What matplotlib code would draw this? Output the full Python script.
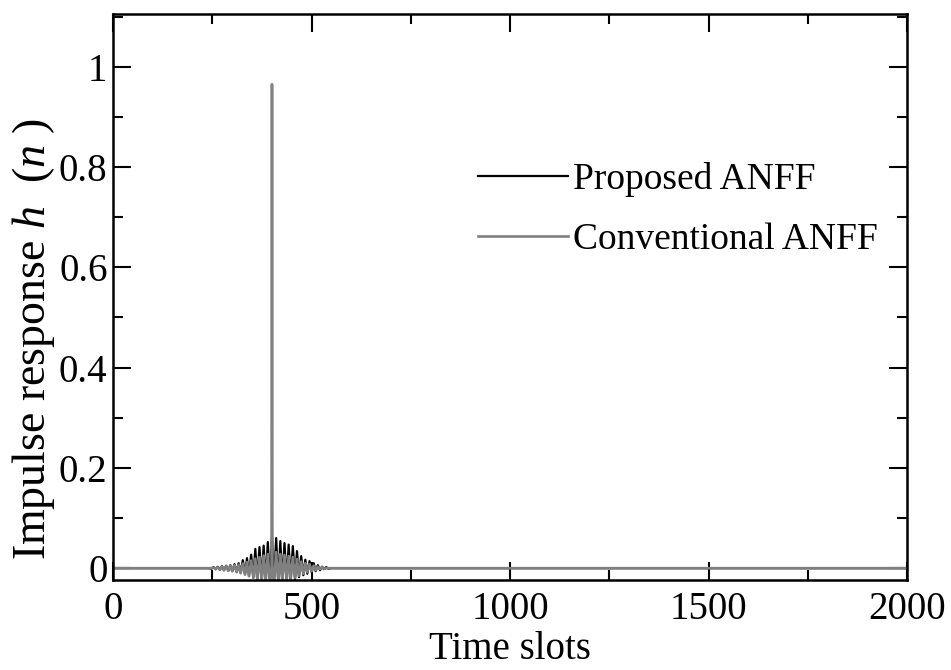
import numpy as np
import matplotlib
matplotlib.use("Agg")
import matplotlib.pyplot as plt
from matplotlib.ticker import MultipleLocator, FixedLocator

plt.rcParams['font.family'] = ['Liberation Serif', 'DejaVu Serif']
plt.rcParams['mathtext.fontset'] = 'custom'
plt.rcParams['mathtext.rm'] = 'Liberation Serif'
plt.rcParams['mathtext.it'] = 'Liberation Serif:italic'

# extrema of the impulse responses (time slot, value)
proposed_n = [0, 240, 248, 253, 258, 263.5, 269, 274, 279, 284.5, 290, 295, 300,
              305.5, 311, 316, 321, 326.5, 332, 337, 342, 347.5, 353, 358, 363,
              368.5, 374, 379, 384, 389.5, 395, 400, 405, 410.5, 416, 421, 426,
              431.5, 437, 442, 447, 452.5, 458, 463, 468, 473.5, 479, 484, 489,
              494.5, 500, 505, 510, 515.5, 521, 526, 531, 536.5, 542, 550, 2000]
proposed_h = [0, 0, -0.001, 0.002, -0.002, 0.003, -0.003, 0.004, -0.004, 0.005, -0.005,
              0.006, -0.006, 0.008, -0.007, 0.010, -0.009, 0.016, -0.012, 0.020, -0.015,
              0.027, -0.019, 0.0385, -0.024, 0.042, -0.026, 0.045, -0.028, 0.052, -0.03,
              0.065, -0.03, 0.060, -0.03, 0.054, -0.028, 0.050, -0.027, 0.047, -0.025,
              0.044, -0.022, 0.034, -0.018, 0.024, -0.014, 0.017, -0.011, 0.014, -0.008,
              0.010, -0.006, 0.006, -0.004, 0.003, -0.002, 0.002, -0.001, 0, 0]

conventional_n = [0, 245, 253, 258, 263.5, 269, 274, 279, 284.5, 290, 295, 300,
                  305.5, 311, 316, 321, 326.5, 332, 337, 342, 347.5, 353, 358, 363,
                  368.5, 374, 379, 384, 389.5, 395, 399, 400, 401, 405, 410.5, 416,
                  421, 426, 431.5, 437, 442, 447, 452.5, 458, 463, 468, 473.5, 479,
                  484, 489, 494.5, 500, 505, 510, 515.5, 521, 526, 531, 540, 2000]
conventional_h = [0, 0, 0.001, -0.002, 0.002, -0.003, 0.003, -0.004, 0.004, -0.005,
                  0.005, -0.006, 0.006, -0.008, 0.007, -0.010, 0.009, -0.013, 0.012,
                  -0.016, 0.015, -0.019, 0.019, -0.022, 0.022, -0.025, 0.025, -0.027,
                  0.028, -0.03, 0.0, 0.965, 0.0, -0.03, 0.032, -0.028, 0.028, -0.026,
                  0.026, -0.024, 0.024, -0.022, 0.022, -0.019, 0.018, -0.015, 0.013,
                  -0.011, 0.010, -0.008, 0.008, -0.006, 0.005, -0.004, 0.003, -0.002,
                  0.002, -0.001, 0, 0]

x_ticks = [0, 500, 1000, 1500, 2000]
y_ticks = [0, 0.2, 0.4, 0.6, 0.8, 1]
y_tick_labels = ['0', '0.2', '0.4', '0.6', '0.8', '1']

fig = plt.figure(figsize=(9.51, 6.70), dpi=100)
ax = fig.add_axes([0.119, 0.134, 0.835, 0.845])

ax.plot(proposed_n, proposed_h, color='black', lw=1.6, label='Proposed ANFF')
ax.plot(conventional_n, conventional_h, color='#808080', lw=1.9, label='Conventional ANFF')

ax.set_xlim(0, 2000)
ax.set_ylim(-0.024, 1.105)
ax.xaxis.set_major_locator(FixedLocator(x_ticks))
ax.xaxis.set_minor_locator(MultipleLocator(250))
ax.yaxis.set_major_locator(FixedLocator(y_ticks))
ax.yaxis.set_minor_locator(MultipleLocator(0.1))
ax.set_yticklabels(y_tick_labels)

ax.tick_params(which='both', direction='in', top=True, right=True, width=1.5,
               labelsize=28)
ax.tick_params(which='major', length=13)
ax.tick_params(which='minor', length=7)
ax.tick_params(axis='y', pad=4)
ax.tick_params(axis='x', pad=8)
for s in ax.spines.values():
    s.set_linewidth(1.8)

ax.set_xlabel('Time slots', fontsize=28, labelpad=2)
fig.text(0.035, 0.494, r'Impulse response $h$  ($n$ )', rotation=90,
         fontsize=33, ha='center', va='center')

ax.legend(loc='upper left', bbox_to_anchor=(0.44, 0.765), frameon=False,
          fontsize=27, handlelength=2.4, handletextpad=0.15, labelspacing=0.68,
          borderaxespad=0)

fig.savefig('out.png', dpi=100)
